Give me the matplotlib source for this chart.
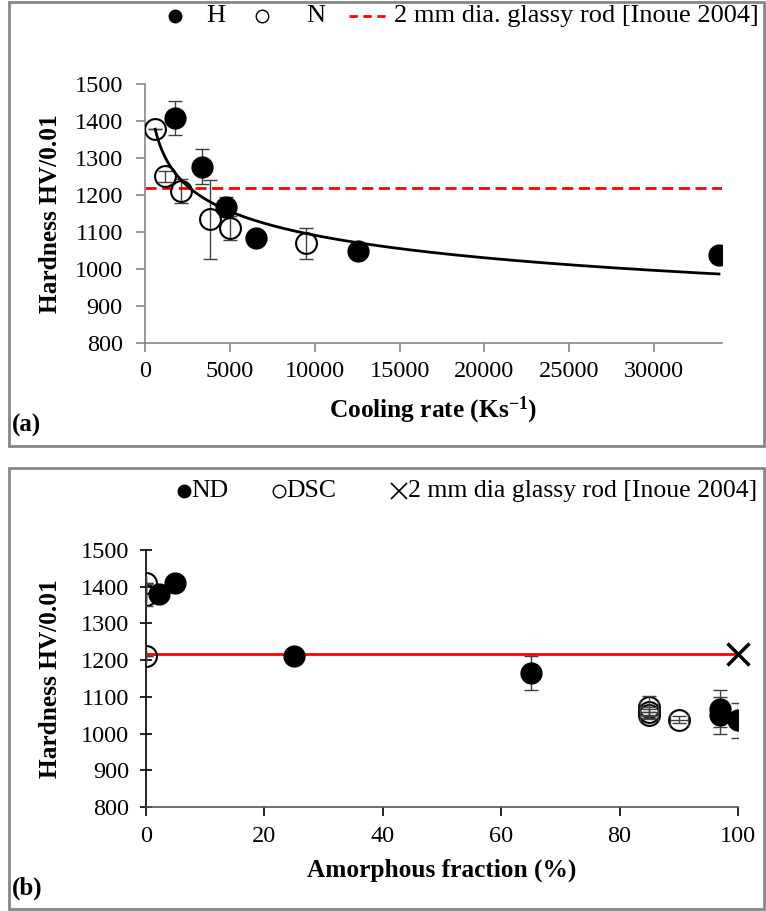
import matplotlib
matplotlib.use('Agg')
import matplotlib.pyplot as plt
import numpy as np
from matplotlib.lines import Line2D
from matplotlib.patches import Rectangle

plt.rcParams['font.family'] = ['Liberation Serif', 'DejaVu Serif']
plt.rcParams['mathtext.fontset'] = 'custom'
plt.rcParams['mathtext.rm'] = 'Liberation Serif'
plt.rcParams['mathtext.bf'] = 'Liberation Serif:bold'
plt.rcParams['mathtext.default'] = 'bf'

# (a) hardness vs cooling rate
h_rate = [1765, 3370, 4765, 6530, 12550, 33820]
h_hard = [1408, 1277, 1168, 1083, 1049, 1037]
h_err = [46, 48, 27, 0, 0, 0]

n_rate = [600, 1176, 2117, 3823, 5000, 9510]
n_hard = [1378, 1251, 1211, 1134, 1111, 1069]
n_err = [0, 15, 32, 108, 32, 43]

rod_rate = [0, 34000]
rod_hard = [1218, 1218]

# (b) hardness vs amorphous fraction
nd_frac = [2.3, 5, 25, 65, 97, 97, 100]
nd_hard = [1379, 1409, 1210, 1165, 1068, 1050, 1036]
nd_err = [0, 0, 0, 45, 50, 50, 47]

dsc_frac = [0, 0, 0, 85, 85, 85, 90]
dsc_hard = [1411, 1377, 1210, 1072, 1058, 1050, 1038]
dsc_err = [0, 30, 0, 30, 10, 10, 10]
dsc_xerr = [0, 0, 0, 1.5, 1.5, 1.5, 1.5]

rod_frac = [0, 100]
rod_b = [1218, 1218]

W, H = 766, 911
fig = plt.figure(figsize=(W / 100, H / 100), dpi=100)

def fx(px):
    return px / W

def fy(py):
    return 1 - py / H

gray = '#868686'
fs = 17.5
lfs = 18.3

# panel frames
for top, bot in [(2, 446), (468, 909)]:
    fig.add_artist(Rectangle((fx(9), fy(bot)), fx(764) - fx(9), fy(top) - fy(bot),
                             transform=fig.transFigure, fill=False, ec=gray, lw=2))

# ---- panel (a)
ax1 = fig.add_axes([fx(145), fy(342.7), fx(722) - fx(145), fy(84.3) - fy(342.7)])
ax1.errorbar(h_rate, h_hard, yerr=h_err, fmt='none', ecolor='#404040', elinewidth=1, capsize=5, zorder=2)
ax1.errorbar(n_rate, n_hard, yerr=n_err, fmt='none', ecolor='#404040', elinewidth=1, capsize=5, zorder=2)
ax1.plot(rod_rate, rod_hard, color='#ff0000', lw=2, dashes=(4, 2), zorder=1)

# power law trend line (fit of all points)
all_x = np.array(h_rate + n_rate, dtype=float)
all_y = np.array(h_hard + n_hard, dtype=float)
b, lna = np.polyfit(np.log(all_x), np.log(all_y), 1)
xx = np.linspace(all_x.min(), all_x.max(), 300)
ax1.plot(xx, np.exp(lna) * xx ** b, color='black', lw=2, zorder=3)

ax1.plot(h_rate, h_hard, 'o', ms=15, mfc='black', mec='black', zorder=4)
ax1.plot(n_rate, n_hard, 'o', ms=15, mfc='none', mec='black', mew=1.5, zorder=4)

ax1.set_xlim(0, 34000)
ax1.set_ylim(800, 1500)
ax1.set_xticks(range(0, 30001, 5000))
ax1.set_yticks(range(800, 1501, 100))
for s in ['top', 'right']:
    ax1.spines[s].set_visible(False)
for s in ['left', 'bottom']:
    ax1.spines[s].set_color(gray)
    ax1.spines[s].set_linewidth(1.2)
ax1.tick_params(labelsize=fs, color=gray, length=6.5, width=1.2)
ax1.tick_params(axis='x', pad=7)
ax1.tick_params(axis='y', pad=9.5)
ax1.set_xlabel('Cooling rate (Ks$^{-1}$)', fontsize=lfs, fontweight='bold')
ax1.set_ylabel('Hardness HV/0.01', fontsize=lfs, fontweight='bold')
ax1.xaxis.set_label_coords(0.5, -0.2)
ax1.yaxis.set_label_coords(-0.144, 0.5)

fig.text(fx(12), fy(425), '(a)', fontsize=18, fontweight='bold', va='center')

# legend (a), placed by hand
ly = fy(16)
fig.add_artist(Line2D([fx(175)], [ly], ls='none', marker='o', ms=9, mfc='black', mec='black'))
fig.text(fx(206), ly, 'H', fontsize=19, va='center')
fig.add_artist(Line2D([fx(262)], [ly], ls='none', marker='o', ms=9, mfc='none', mec='black', mew=1))
fig.text(fx(306), ly, 'N', fontsize=19, va='center')
fig.add_artist(Line2D([fx(349), fx(388)], [ly, ly], color='#ff0000', lw=2, dashes=(3, 2)))
fig.text(fx(394), ly, '2 mm dia. glassy rod [Inoue 2004]', fontsize=19, va='center')

# ---- panel (b)
ax2 = fig.add_axes([fx(145.7), fy(807), fx(738) - fx(145.7), fy(550) - fy(807)])
ax2.plot(rod_frac, rod_b, color='#ff0000', lw=2, zorder=1)
ax2.errorbar(nd_frac, nd_hard, yerr=nd_err, fmt='none', ecolor='#404040', elinewidth=1, capsize=5, zorder=2)
ax2.errorbar(dsc_frac, dsc_hard, yerr=dsc_err, xerr=dsc_xerr, fmt='none', ecolor='#404040',
             elinewidth=1, capsize=5, zorder=5)
ax2.plot(nd_frac, nd_hard, 'o', ms=15, mfc='black', mec='black', zorder=4)
ax2.plot(dsc_frac, dsc_hard, 'o', ms=15, mfc='none', mec='black', mew=1.5, zorder=4)
ax2.plot(rod_frac[-1:], rod_b[-1:], 'x', ms=16, mec='black', mew=2.5, zorder=6, clip_on=False)

ax2.set_xlim(0, 100)
ax2.set_ylim(800, 1500)
ax2.set_xticks(range(0, 101, 20))
ax2.set_yticks(range(800, 1501, 100))
for s in ['top', 'right']:
    ax2.spines[s].set_visible(False)
ax2.spines['left'].set_color('black')
ax2.spines['bottom'].set_color('#555555')
for s in ['left', 'bottom']:
    ax2.spines[s].set_linewidth(1.2)
ax2.tick_params(labelsize=fs, length=6.5, width=1.2)
ax2.tick_params(axis='x', pad=7)
ax2.tick_params(axis='y', direction='inout', length=8, pad=8)
ax2.set_xlabel('Amorphous fraction (%)', fontsize=lfs, fontweight='bold')
ax2.set_ylabel('Hardness HV/0.01', fontsize=lfs, fontweight='bold')
ax2.xaxis.set_label_coords(0.5, -0.2)
ax2.yaxis.set_label_coords(-0.141, 0.5)

fig.text(fx(12), fy(888), '(b)', fontsize=18, fontweight='bold', va='center')

# legend (b), placed by hand
ly = fy(491)
fig.add_artist(Line2D([fx(184)], [ly], ls='none', marker='o', ms=9, mfc='black', mec='black'))
fig.text(fx(191), ly, 'ND', fontsize=18.5, va='center')
fig.add_artist(Line2D([fx(279)], [ly], ls='none', marker='o', ms=9, mfc='none', mec='black', mew=1))
fig.text(fx(286), ly, 'DSC', fontsize=18.5, va='center')
fig.add_artist(Line2D([fx(399)], [ly], ls='none', marker='x', ms=11, mec='black', mew=1.2))
fig.text(fx(408), ly, '2 mm dia glassy rod [Inoue 2004]', fontsize=18.5, va='center')

fig.savefig('out.png', dpi=100)
